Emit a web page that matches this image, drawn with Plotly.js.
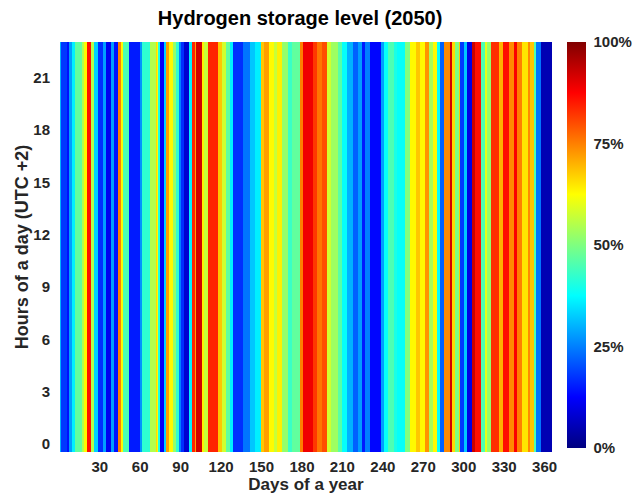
<!DOCTYPE html>
<html>
<head>
<meta charset="utf-8">
<script src="https://cdn.plot.ly/plotly-3.0.1.min.js"></script>
<style>
  html, body { margin: 0; padding: 0; background: #ffffff; }
  #chart { width: 644px; height: 497px; }
</style>
</head>
<body>
<div id="chart"></div>
<script>
// Daily hydrogen storage level (%), day 1 .. 365
const storageLevel = [
  30, 18,18,18,18, 14,14, 28,28, 36,36, 47,47,47,47,47, 55,55, 63,63, 86,86,86, 55,55, 33,33,33,
  17,17,17,17, 28,28, 11,11,11,11, 28,28, 14,14,14, 75,75, 63,63, 45,45,45,45,
  15,15,15,15,15,15,15,15, 27,27, 42,42,42,42,42,42, 55,55,55,55,
  66, 62, 40, 12,12,12, 33,33, 72,72, 63,63,63, 52,52, 42,42, 25,25, 17,17, 8,8,8,8, 36,36,
  84,84, 72, 92,92,92,92, 64,64, 57,57,57, 84,84,84,84,84,84,84, 68,68,68, 58,58,58, 47,47,47,
  36,36, 17,17,17,17,17,17,17,17, 24,24,24,24,24, 32,32,32,32,
  36,36,36,36, 68,68, 72,72,72,72, 63,63,63,63, 57,57, 64,64,64,64, 52,52,52,52, 43,43,43,
  47,47,47,47,47,47, 75,75, 89,89,89,89,89,89,89,89, 82,82,82, 76,76,76, 80,80,80,80,
  58,58,58, 53,53,53,53,53, 46,46,46, 38,38,38,38, 30,30,30,30, 22,22,22,22, 28,28,28,
  15,15, 25,25,25,25, 13,13,13,13,13,13,13,13, 28,28, 38,38,38, 45,45,45,45,45, 40,40,
  38,38,38,38,38,38, 50,50,50,50, 63,63,63,63, 68,68,68, 63,63,63,63, 73,73,73, 54,54,54,
  63,63,63, 38,38, 22,22,22, 74,74,74,74, 92,92, 66,66, 50,50,50, 68,
  18,18,18, 32,32, 10,10,10,10, 93,93, 86,86,86,86, 45,45,45, 60,60, 52,52,52,
  83,83,83,83,83,83, 70,70,70, 86,86,86,86, 74,74,74,74, 88,88, 75,75,75,75,
  65,65,65,65, 74,74, 68,68,68, 45, 24,24,24,24, 5,5,5,5,5,5,5,5
];
const hours = [0,1,2,3,4,5,6,7,8,9,10,11,12,13,14,15,16,17,18,19,20,21,22,23];
const xTicks = [30,60,90,120,150,180,210,240,270,300,330,360];
const yTicks = [0,3,6,9,12,15,18,21];
const cbTickVals = [0,25,50,75,100];
const cbTickText = ['0%','25%','50%','75%','100%'];

const days = storageLevel.map((v, i) => i + 1);
const z = hours.map(() => storageLevel.slice());

const jet = [
  [0.0, 'rgb(0,0,128)'],
  [0.125, 'rgb(0,0,255)'],
  [0.375, 'rgb(0,255,255)'],
  [0.625, 'rgb(255,255,0)'],
  [0.875, 'rgb(255,0,0)'],
  [1.0, 'rgb(128,0,0)']
];

const FONT = 'Arial, "Liberation Sans", sans-serif';
const tickFont = { family: FONT, size: 15, color: '#262626', weight: 'bold' };

const trace = {
  type: 'heatmap',
  x: days,
  y: hours,
  z: z,
  zmin: 0,
  zmax: 100,
  colorscale: jet,
  zsmooth: false,
  hoverinfo: 'skip',
  colorbar: {
    x: 1.0303, xanchor: 'left', xpad: 0,
    y: 1.0, yanchor: 'top', ypad: 0,
    thickness: 19, thicknessmode: 'pixels',
    len: 406, lenmode: 'pixels',
    outlinewidth: 0,
    tickmode: 'array', tickvals: cbTickVals, ticktext: cbTickText,
    ticks: 'outside', ticklen: 5, tickcolor: 'rgba(0,0,0,0)',
    tickfont: tickFont
  }
};

const layout = {
  width: 644, height: 497,
  margin: { l: 60, r: 89, t: 42, b: 45 },
  paper_bgcolor: '#ffffff',
  plot_bgcolor: '#ffffff',
  title: {
    text: '<b>Hydrogen storage level (2050)</b>',
    font: { family: FONT, size: 20, color: '#000000' },
    x: 0.466, xanchor: 'center', y: 0.963, yanchor: 'middle'
  },
  xaxis: {
    range: [0.5, 365.5],
    tickmode: 'array', tickvals: xTicks,
    ticks: 'outside', ticklen: 1, tickcolor: 'rgba(0,0,0,0)',
    showgrid: false, zeroline: false, showline: false,
    tickfont: tickFont,
    title: { text: '<b>Days of a year</b>', font: { family: FONT, size: 17, color: '#262626' }, standoff: 3 }
  },
  yaxis: {
    range: [-0.45, 23.05],
    tickmode: 'array', tickvals: yTicks,
    ticks: 'outside', ticklen: 6, tickcolor: 'rgba(0,0,0,0)',
    showgrid: false, zeroline: false, showline: false,
    tickfont: tickFont,
    title: { text: '<b>Hours of a day (UTC +2)</b>', font: { family: FONT, size: 18, color: '#262626' }, standoff: 0 }
  }
};

Plotly.newPlot('chart', [trace], layout, { displayModeBar: false, staticPlot: true });
</script>
</body>
</html>
